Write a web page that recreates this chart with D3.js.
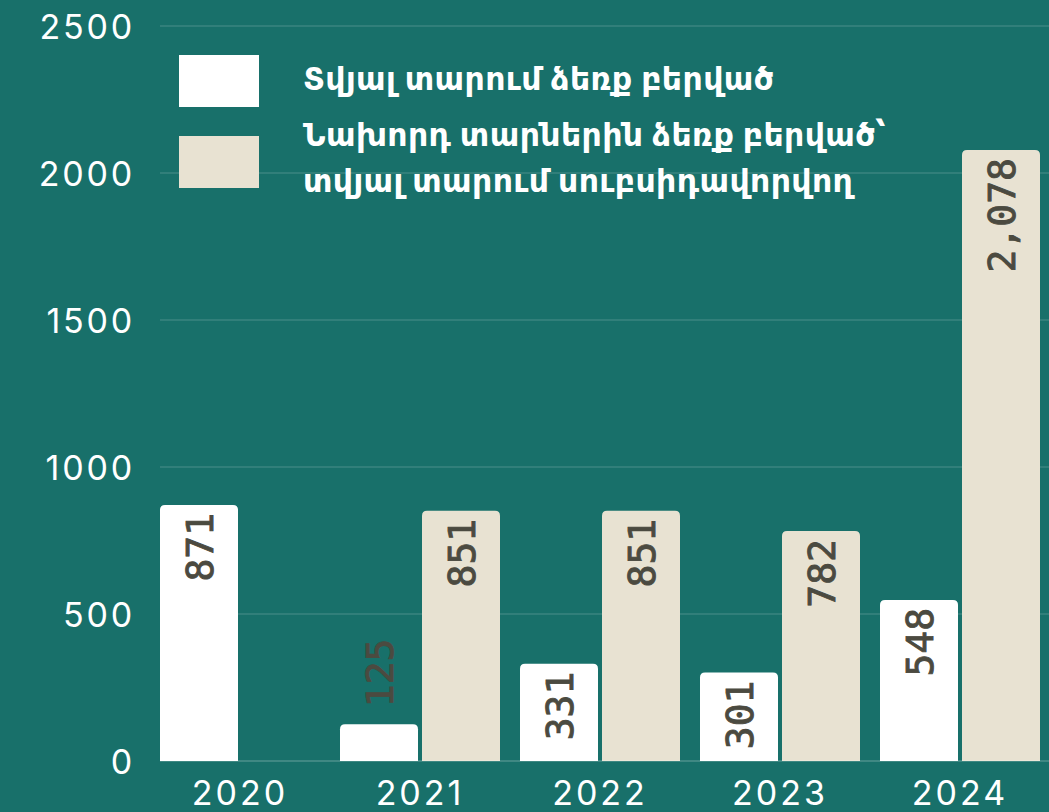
<!DOCTYPE html>
<html><head><meta charset="utf-8">
<script src="https://cdn.jsdelivr.net/npm/d3@7/dist/d3.min.js"></script>
<style>
html,body{margin:0;padding:0;background:#18706a;}
svg{display:block;}
</style></head>
<body>
<svg id="chart" width="1049" height="812"></svg>
<script>
const years = ["2020","2021","2022","2023","2024"];
const seriesKeys = ["current","previous"];
const seriesNames = ["Տվյալ տարում ձեռք բերված", ["Նախորդ տարներին ձեռք բերված՝","տվյալ տարում սուբսիդավորվող"]];
const currentValues = [871,125,331,301,548];
const previousValues = [null,851,851,782,2078];
const yTicks = [0,500,1000,1500,2000,2500];

const colors = {current:"#ffffff", previous:"#e8e2d2"};
const bg = "#18706a";
const labelColor = "#4b4a40";

const svg = d3.select("#chart");
svg.append("rect").attr("width",1049).attr("height",812).attr("fill",bg);

const y = d3.scaleLinear().domain([0,2500]).range([761,26]);
const x0 = d3.scaleBand().domain(years).range([160,1040]).paddingInner(1/9).paddingOuter(0).align(0);
const x1 = d3.scaleBand().domain(seriesKeys).range([0,x0.bandwidth()]).paddingInner(4/82).paddingOuter(0);

// gridlines
svg.append("g").selectAll("line").data(yTicks.filter(d=>d>0)).join("line")
  .attr("x1",160).attr("x2",1049)
  .attr("y1",d=>y(d)).attr("y2",d=>y(d))
  .attr("stroke","rgba(255,255,255,0.22)").attr("stroke-width",1.2);

const tickFont = "Inter, 'Noto Sans', sans-serif";

// y axis labels
const yAxis = d3.axisLeft(y).tickValues(yTicks).tickSize(0).tickPadding(0).tickFormat(d3.format("d"));
const yg = svg.append("g").attr("transform","translate(135,0)").call(yAxis);
yg.select(".domain").remove();
yg.selectAll("text").attr("fill","#ffffff").attr("font-family",tickFont)
  .attr("font-size",34).attr("font-weight",400).attr("letter-spacing","2.8px").attr("dy","0.36em");

// data rows
const rows = years.map((yr,i)=>({year:yr, current:currentValues[i], previous:previousValues[i]}));

function topRounded(x,yTop,w,h,r){
  r = Math.min(r,h,w/2);
  return `M${x},${yTop+h}V${yTop+r}Q${x},${yTop} ${x+r},${yTop}H${x+w-r}Q${x+w},${yTop} ${x+w},${yTop+r}V${yTop+h}Z`;
}

const groups = svg.append("g").selectAll("g").data(rows).join("g")
  .attr("transform",d=>`translate(${x0(d.year)},0)`);

const barData = d=>seriesKeys.filter(k=>d[k]!=null).map(k=>({key:k,value:d[k]}));

groups.selectAll("path").data(barData).join("path")
  .attr("d",d=>topRounded(x1(d.key), y(d.value), x1.bandwidth(), y(0)-y(d.value), 5))
  .attr("fill",d=>colors[d.key]);

// baseline
svg.append("line").attr("x1",160).attr("x2",1049).attr("y1",y(0)).attr("y2",y(0))
  .attr("stroke","rgba(255,255,255,0.35)").attr("stroke-width",1.2);

const fmt = d3.format(",");
const isInside = d => (y(0)-y(d.value)) > 60;
groups.selectAll("text.val").data(barData).join("text")
  .attr("class","val")
  .attr("transform",d=>{
    const cx = x1(d.key)+x1.bandwidth()/2;
    const ty = isInside(d) ? y(d.value)+8 : y(d.value)-17;
    return `translate(${cx},${ty}) rotate(-90)`;
  })
  .attr("text-anchor",d=>isInside(d) ? "end" : "start")
  .attr("dy","0.36em")
  .attr("fill",labelColor)
  .attr("stroke",labelColor).attr("stroke-width",0.9)
  .attr("font-family","'DejaVu Sans Mono', 'Liberation Mono', monospace")
  .attr("font-size",38)
  .text(d=>fmt(d.value));

// x axis labels
const xAxis = d3.axisBottom(x0).tickSize(0).tickPadding(0);
const xg = svg.append("g").attr("transform","translate(0,805)").call(xAxis);
xg.select(".domain").remove();
xg.selectAll("text").attr("fill","#ffffff").attr("font-family",tickFont)
  .attr("font-size",34).attr("font-weight",400).attr("letter-spacing","3px").attr("dy","0");

// legend
const legend = svg.append("g");
const legendY = [55,136];
const legendBase = [[90],[146,192]];
seriesKeys.forEach((k,i)=>{
  legend.append("rect").attr("x",179).attr("y",legendY[i]).attr("width",80).attr("height",52).attr("fill",colors[k]);
  const name = seriesNames[i];
  const lines = Array.isArray(name)? name : [name];
  const t = legend.append("text").attr("fill","#ffffff")
    .attr("font-family","'Noto Sans', 'DejaVu Sans', sans-serif")
    .attr("font-weight",600).attr("font-size",31.5).attr("letter-spacing","0.4px");
  lines.forEach((ln,j)=>{
    t.append("tspan").attr("x",303).attr("y",legendBase[i][j]).text(ln);
  });
});
</script>
</body></html>
